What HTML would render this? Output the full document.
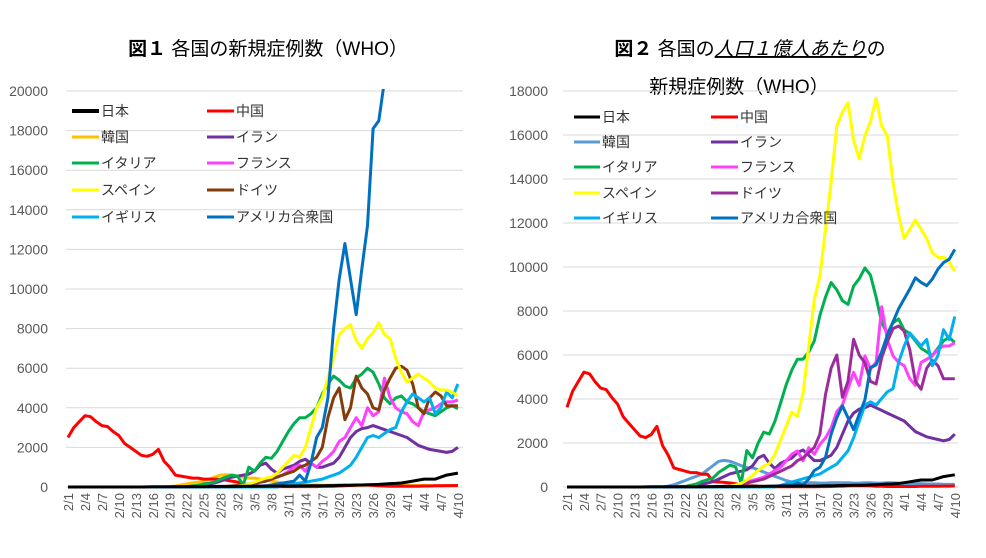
<!DOCTYPE html>
<html><head><meta charset="utf-8"><style>
body{margin:0;background:#fff;width:986px;height:553px;overflow:hidden}
svg text{font-family:"Liberation Sans","Noto Sans CJK JP",sans-serif}
</style></head><body>
<svg id="s" width="986" height="553" xmlns="http://www.w3.org/2000/svg">
<defs>
<clipPath id="cl"><rect x="60" y="89" width="410" height="402"/></clipPath>
<clipPath id="cr"><rect x="560" y="89" width="402" height="402"/></clipPath>
</defs>
<text x="268" y="55" text-anchor="middle" font-size="19" fill="#000"><tspan font-weight="bold">図１</tspan> 各国の新規症例数（WHO）</text>
<text x="750" y="55" text-anchor="middle" font-size="19" fill="#000"><tspan font-weight="bold">図２</tspan> 各国の<tspan font-style="italic" text-decoration="underline">人口１億人あたり</tspan>の</text>
<text x="739" y="93" text-anchor="middle" font-size="19" fill="#000">新規症例数（WHO）</text>
<g id="g"></g>
</svg>
<script>
const jp=[0,0,0,0,0,0,0,0,0,0,0,0,0,0,5,10,10,10,10,15,15,15,20,20,20,25,25,30,30,30,30,35,35,40,40,40,45,45,50,50,50,55,55,60,60,60,70,70,80,90,90,100,100,110,120,130,150,170,180,200,250,300,350,400,400,400,500,600,650,700];
const cn=[2500,3000,3300,3600,3550,3300,3100,3050,2800,2600,2200,2000,1800,1600,1550,1650,1900,1300,1000,600,550,500,450,450,400,400,400,380,350,300,250,150,100,80,50,40,30,20,20,20,20,20,20,20,20,30,30,40,50,60,80,90,100,100,80,60,50,40,40,40,40,40,40,50,50,60,60,70,70,80];
const kr=[0,0,0,0,0,0,0,0,0,0,0,0,0,0,0,0,0,0,20,50,100,150,200,250,300,400,500,600,620,600,550,500,450,450,400,350,300,250,200,150,120,100,100,100,100,90,90,100,100,100,100,90,90,100,100,90,90,100,100,90,80,80,80,80,70,70,70,60,60,60];
const ir=[0,0,0,0,0,0,0,0,0,0,0,0,0,0,0,0,0,0,0,5,10,20,40,80,100,150,200,300,400,500,550,600,650,800,1100,1200,900,700,900,1000,1100,1300,1400,1200,1000,1000,1100,1200,1500,2000,2500,2800,2950,3000,3100,3000,2900,2800,2700,2600,2500,2300,2100,2000,1900,1850,1800,1750,1800,2000];
const it=[0,0,0,0,0,0,0,0,0,0,0,0,0,0,0,0,0,0,0,0,0,10,50,80,150,200,250,400,500,600,550,100,1000,800,1200,1500,1450,1800,2300,2800,3200,3500,3500,3700,4000,4700,5200,5600,5400,5100,5000,5500,5700,6000,5800,5200,4500,4200,4500,4600,4300,4200,4000,3800,3700,3600,3800,4000,4100,3950];
const fr=[0,0,0,0,0,0,0,0,0,0,0,0,0,0,0,0,0,0,0,0,0,0,0,0,0,0,5,10,20,40,60,100,150,200,250,300,400,500,600,800,1000,1100,800,1200,1000,1300,1500,1800,2300,2500,3000,3500,3100,4000,3600,3800,5500,4500,4000,3800,3700,3300,3100,3800,3900,4000,4200,4300,4300,4400];
const es=[0,0,0,0,0,0,0,0,0,0,0,0,0,0,0,0,0,0,0,0,0,0,0,0,0,0,0,5,10,20,40,80,150,250,350,450,500,700,1000,1300,1600,1500,2000,3000,4000,4500,5500,6500,7700,8000,8200,7400,7000,7500,7800,8300,7700,7500,6500,5800,5300,5500,5700,5500,5300,5000,4900,4900,4800,4600];
const de=[0,0,0,0,0,0,0,0,0,0,0,0,0,0,0,0,0,0,0,0,0,0,0,0,0,0,10,20,30,50,80,100,150,200,250,300,400,500,600,700,800,1000,1100,1300,1500,2000,3500,4500,5000,3400,4000,5600,5000,4700,4000,3900,4900,5500,6000,6100,5900,5200,4000,3700,4500,4800,4600,4100,4100,4100];
const uk=[0,0,0,0,0,0,0,0,0,0,0,0,0,0,0,0,0,0,0,0,0,0,0,0,0,0,0,0,0,0,0,0,0,0,0,0,0,0,50,100,150,200,250,300,350,400,500,600,700,900,1100,1500,2000,2500,2600,2500,2700,2900,3000,3800,4300,4700,4500,4300,4500,3700,4000,4800,4500,5200];
const us=[0,0,0,0,0,0,0,0,0,0,0,0,0,0,0,0,0,0,0,0,0,0,0,0,0,0,0,0,0,5,10,20,30,40,50,60,100,150,200,250,300,600,300,1200,2500,3000,4500,8000,10500,12300,10500,8700,11000,13200,18100,18500,20500,23000,25000,27000,28500,30000,31700,31000,30500,31500,33000,34000,34500,36000];
const cols={jp:'#000000',cn:'#ff0000',kr:'#ffc000',ir:'#7030a0',it:'#00b050',fr:'#ff40ff',es:'#ffff00',de:'#843c0c',uk:'#00b0f0',us:'#0070c0'};
const colsR=Object.assign({},cols,{kr:'#5b9bd5',de:'#9b2d9b'});
const order=['kr','cn','ir','it','fr','de','uk','es','us','jp'];
const data={jp,cn,kr,ir,it,fr,es,de,uk,us};
const fac={jp:0.79,cn:1.45,kr:1.95,ir:1.2,it:1.66,fr:1.49,es:2.13,de:1.2,uk:1.49,us:0.3};
let h='';
for(let v=0;v<=20000;v+=2000){const y=487-v*0.0198;h+=`<line x1="66" x2="463" y1="${y}" y2="${y}" stroke="#d9d9d9"/><text x="48" y="${y+5}" text-anchor="end" font-size="14" fill="#595959">${v}</text>`;}
for(let v=0;v<=18000;v+=2000){const y=487-v*0.022;h+=`<line x1="563" x2="958" y1="${y}" y2="${y}" stroke="#d9d9d9"/><text x="548" y="${y+5}" text-anchor="end" font-size="14" fill="#595959">${v}</text>`;}
const lab=i=>{const d=new Date(2020,1,1+i);return (d.getMonth()+1)+'/'+d.getDate();};
for(let i=0;i<70;i+=3){
 let x=68+i*5.65;h+=`<text transform="translate(${x+5},493) rotate(-90)" text-anchor="end" font-size="13" fill="#595959">${lab(i)}</text>`;
 x=567+i*5.62;h+=`<text transform="translate(${x+5},493) rotate(-90)" text-anchor="end" font-size="13" fill="#595959">${lab(i)}</text>`;
}
for(const k of order){
 const a=data[k].slice(0,70);
 let p=a.map((v,i)=>(68+i*5.65).toFixed(1)+','+(487-v*0.0198).toFixed(1)).join(' ');
 h+=`<polyline clip-path="url(#cl)" points="${p}" fill="none" stroke="${cols[k]}" stroke-width="3" stroke-linejoin="round"/>`;
 let f=fac[k];
 p=a.map((v,i)=>{let ff=f;if(k==='cn'&&i>25)ff=0.6;return (567+i*5.62).toFixed(1)+','+(487-v*ff*0.022).toFixed(1)}).join(' ');
 h+=`<polyline clip-path="url(#cr)" points="${p}" fill="none" stroke="${colsR[k]}" stroke-width="3" stroke-linejoin="round"/>`;
}
const names=[['jp','日本','cn','中国'],['kr','韓国','ir','イラン'],['it','イタリア','fr','フランス'],['es','スペイン','de','ドイツ'],['uk','イギリス','us','アメリカ合衆国']];
const ly=[111,137,163,190,217],ry=[117,142,167,193,218];
names.forEach((r,j)=>{
 h+=`<line x1="72" x2="99" y1="${ly[j]}" y2="${ly[j]}" stroke="${cols[r[0]]}" stroke-width="${r[0]=='jp'?4:3}"/><text x="101" y="${ly[j]+5}" font-size="14" fill="#333">${r[1]}</text>`;
 h+=`<line x1="207" x2="234" y1="${ly[j]}" y2="${ly[j]}" stroke="${cols[r[2]]}" stroke-width="3"/><text x="236" y="${ly[j]+5}" font-size="14" fill="#333">${r[3]}</text>`;
 h+=`<line x1="574" x2="600" y1="${ry[j]}" y2="${ry[j]}" stroke="${colsR[r[0]]}" stroke-width="3"/><text x="602" y="${ry[j]+5}" font-size="14" fill="#333">${r[1]}</text>`;
 h+=`<line x1="711" x2="738" y1="${ry[j]}" y2="${ry[j]}" stroke="${colsR[r[2]]}" stroke-width="3"/><text x="740" y="${ry[j]+5}" font-size="14" fill="#333">${r[3]}</text>`;
});
document.getElementById('g').innerHTML=h;
</script>
</body></html>
